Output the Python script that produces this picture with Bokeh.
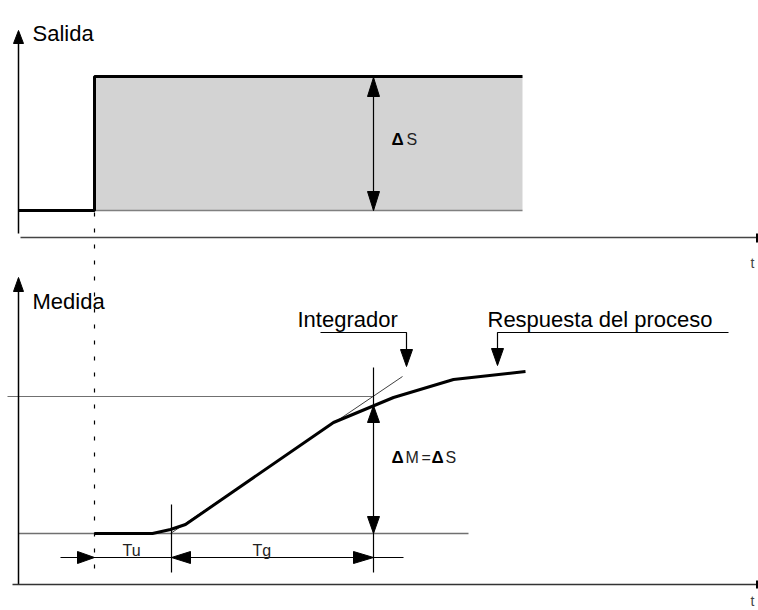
from bokeh.plotting import figure
from bokeh.models import Range1d
from bokeh.embed import file_html
from bokeh.resources import INLINE
from bokeh.core.properties import value

FONT = "Liberation Sans"

# ---------------- data (diagram coordinates, y grows downward) ----------------
# Output step (Salida)
step_x = [18, 94, 94, 522]
step_y = [210, 210, 76, 76]
shade_x = [94, 522, 522, 94]
shade_y = [76, 76, 210, 210]

# Process response (Medida)
proc_x = [94, 152, 170, 185, 333, 393, 453, 525]
proc_y = [533, 533, 529, 524, 422, 397, 379, 371]
# Integrator tangent
tan_x = [170, 402]
tan_y = [533, 376]

# Labels
label_text = ["Salida", "Medida", "Integrador", "Respuesta del proceso"]
label_x = [32, 32, 297, 487]
label_y = [33, 301, 319, 319]

small_text = ["S", "M", "=", "S", "Tu", "Tg"]
small_x = [406, 405, 421, 445, 122, 252]
small_y = [139, 457, 457, 457, 550, 550]
delta_x = [391, 391, 431]
delta_y = [139, 457, 457]

t_x = [750, 750]
t_y = [262, 600]

# Arrow heads: tip x, tip y, direction, length, half width
head_x = [18, 18, 373, 373, 373, 373, 406, 497, 94, 171, 373]
head_y = [30, 277, 77, 210, 405, 533, 366, 365, 557, 557, 557]
head_dir = ["up", "up", "up", "down", "up", "down", "down", "down", "right", "left", "right"]
head_len = [13, 14, 19, 19, 17, 17, 17, 17, 17, 19, 20]
head_half = [5, 5, 6, 6, 6, 6, 6, 6, 6, 6, 6]

p = figure(width=758, height=610, output_backend="svg", toolbar_location=None,
           x_range=Range1d(0, 758), y_range=Range1d(610, 0),
           min_border=0, outline_line_color=None)
p.axis.visible = False
p.grid.visible = False
p.background_fill_color = "white"
p.border_fill_color = "white"

# shaded step area
p.patch(shade_x, shade_y, fill_color="#d3d3d3", line_color=None)
# gray lines
p.line([94, 522], [210, 210], line_color="#808080", line_width=1.5)
p.line([7, 373], [396, 396], line_color="#707070", line_width=1.2)
p.line([18, 468], [533, 533], line_color="#707070", line_width=1.5)

# axes
p.line([18, 18], [40, 233], line_color="black", line_width=1.5)
p.line([20, 757], [237, 237], line_color="#444444", line_width=1.3)
p.line([757, 757], [233, 242], line_color="black", line_width=3)
p.line([18, 18], [288, 584], line_color="black", line_width=1.5)
p.line([12, 757], [584, 584], line_color="#333333", line_width=1.3)
p.line([757, 757], [580, 588], line_color="black", line_width=3)

# dashed step time marker
p.line([94, 94], [212, 575], line_color="black", line_width=1.2, line_dash="4 12")

# step and response
p.line(step_x, step_y, line_color="black", line_width=3)
p.line(tan_x, tan_y, line_color="#404040", line_width=1)
p.line(proc_x, proc_y, line_color="black", line_width=3)

# dimension lines
p.line([373, 373], [77, 210], line_color="black", line_width=1.2)
p.line([373, 373], [367, 572], line_color="black", line_width=1.2)
p.line([171, 171], [504, 572], line_color="black", line_width=1.2)
p.line([60, 403], [557, 557], line_color="black", line_width=1.2)
# leaders
p.line([320, 406, 406], [332, 332, 350], line_color="black", line_width=1.2)
p.line([497, 497, 728], [350, 332, 332], line_color="black", line_width=1.2)

# arrow heads
xs, ys = [], []
for x, y, d, L, h in zip(head_x, head_y, head_dir, head_len, head_half):
    if d == "up":
        xs.append([x, x - h, x + h]); ys.append([y, y + L, y + L])
    elif d == "down":
        xs.append([x, x - h, x + h]); ys.append([y, y - L, y - L])
    elif d == "left":
        xs.append([x, x + L, x + L]); ys.append([y, y - h, y + h])
    else:
        xs.append([x, x - L, x - L]); ys.append([y, y - h, y + h])
p.patches(xs, ys, fill_color="black", line_color="black", line_width=1)

# texts
p.text(label_x, label_y, text=label_text, text_font=value(FONT), text_font_size="22px",
       text_color="black", text_baseline="alphabetic", text_align="left")
p.text(delta_x, delta_y, text=["Δ"] * 3, text_font=value(FONT), text_font_size="17px",
       text_font_style="bold", text_color="black", text_baseline="alphabetic")
p.text(small_x, small_y, text=small_text, text_font=value(FONT), text_font_size="16px",
       text_color="#222222", text_baseline="alphabetic")
p.text(t_x, t_y, text=["t", "t"], text_font=value(FONT), text_font_size="14px",
       text_color="#444444", text_baseline="alphabetic")

open("out.html", "w").write(file_html(p, INLINE))
